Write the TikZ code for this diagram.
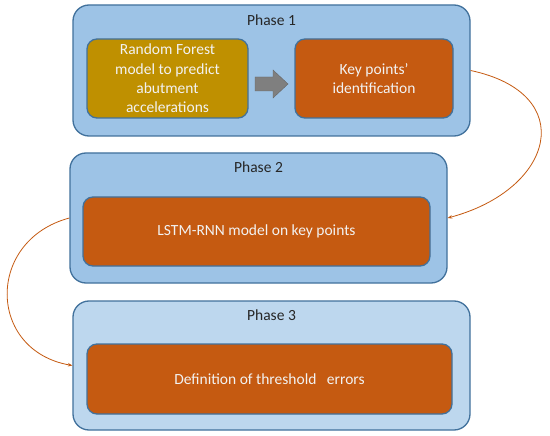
\documentclass[tikz,border=0pt]{standalone}
\usepackage{fontspec}
\setmainfont{Carlito}
\usetikzlibrary{arrows.meta}

\definecolor{phaseblue}{HTML}{9DC3E6}
\definecolor{phaselight}{HTML}{BDD7EE}
\definecolor{edgeblue}{HTML}{41719C}
\definecolor{taskorange}{HTML}{C55A11}
\definecolor{taskgold}{HTML}{BF9000}
\definecolor{flowgray}{HTML}{7F7F7F}

\tikzset{
  phasebox/.style={draw=edgeblue,line width=1.3pt,fill=phaseblue,rounded corners=16pt,
    minimum width=#1,minimum height=130pt,inner sep=0pt},
  taskbox/.style={draw=edgeblue,line width=1.3pt,fill=taskorange,rounded corners=10pt,
    text=white!95!black,align=center,inner sep=0pt},
  phasetitle/.style={text=black!85,inner sep=0pt},
  flow/.style={draw=taskorange,line width=0.8pt,-{Stealth[length=4.5pt,width=3.5pt]}},
}

\begin{document}
\begin{tikzpicture}[x=1pt,y=-1pt,font=\fontsize{15.5}{19.3}\selectfont]
  \useasboundingbox[fill=white] (0,0) rectangle (550,436);

  % phase 1
  \node[phasebox=397pt,minimum height=131pt] (p1) at (271.5,70.5) {};
  \node[phasetitle] (t1) at (271.5,20) {Phase 1};
  \node[taskbox,fill=taskgold,minimum width=161pt,minimum height=79pt] (rf) at (167.5,78.5)
    {Random Forest\\model to predict\\abutment\\accelerations};
  \node[taskbox,minimum width=158pt,minimum height=79pt] (kp) at (374,78.5)
    {Key points’\\identification};
  \fill[flowgray,draw=flowgray!80!black,line width=0.4pt]
    (255,77) -- (273,77) -- (273,70) -- (288,84) -- (273,98) -- (273,91) -- (255,91) -- cycle;

  % phase 2
  \node[phasebox=377pt] (p2) at (258.5,218) {};
  \node[phasetitle] (t2) at (258.5,167) {Phase 2};
  \node[taskbox,minimum width=347pt,minimum height=69pt] (lstm) at (256.5,231.5)
    {LSTM-RNN model on key points};

  % phase 3
  \node[phasebox=397pt,fill=phaselight,minimum height=129pt] (p3) at (271.5,365.5) {};
  \node[phasetitle] (t3) at (271.5,315) {Phase 3};
  \node[taskbox,minimum width=365pt,minimum height=70pt] (thr) at (269.5,379)
    {Definition of threshold\ \ \ errors};

  % links between phases
  \draw[flow] (p1.east) to[out=-12,in=15,looseness=1.9] (p2.east);
  \draw[flow] (p2.west) to[out=195,in=170,looseness=1.5] (p3.west);
\end{tikzpicture}
\end{document}
